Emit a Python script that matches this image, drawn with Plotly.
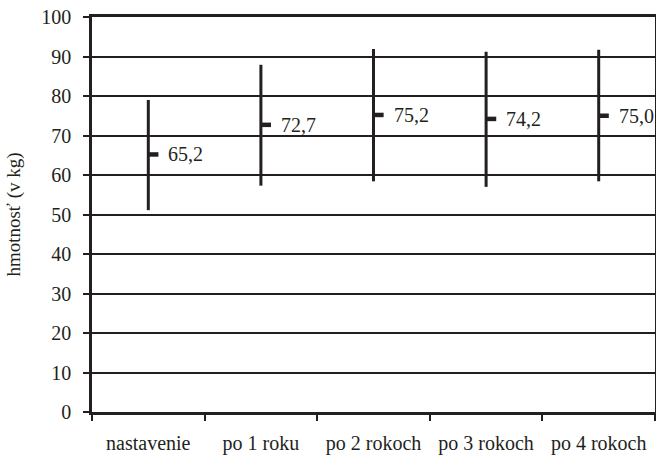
import plotly.graph_objects as go

categories = ["nastavenie", "po 1 roku", "po 2 rokoch", "po 3 rokoch", "po 4 rokoch"]
means = [65.2, 72.7, 75.2, 74.2, 75.0]
highs = [79.0, 87.9, 91.9, 91.2, 91.7]
lows = [51.1, 57.3, 58.4, 57.0, 58.4]
y_ticks = [0, 10, 20, 30, 40, 50, 60, 70, 80, 90, 100]

INK = "#231f20"
FAMILY = "Liberation Serif"
FONT = dict(family=FAMILY, size=20, color=INK)

pos = list(range(len(categories)))
bounds = [p - 0.5 for p in pos] + [pos[-1] + 0.5]

fig = go.Figure()
fig.add_trace(go.Scatter(
    x=pos, y=means, mode="markers",
    marker=dict(size=1, color="rgba(0,0,0,0)"),
    error_y=dict(type="data", symmetric=False,
                 array=[h - m for h, m in zip(highs, means)],
                 arrayminus=[m - l for m, l in zip(means, lows)],
                 width=0, thickness=3, color=INK),
    error_x=dict(type="data", symmetric=False,
                 array=[0.09] * len(means), arrayminus=[0] * len(means),
                 width=0, thickness=4.5, color=INK),
    showlegend=False, hoverinfo="skip",
))

for p, m in zip(pos, means):
    fig.add_annotation(x=p, y=m, text=f"{m:.1f}".replace(".", ","),
                       showarrow=False, xanchor="left", yanchor="middle",
                       xshift=18, font=FONT)

fig.update_layout(
    width=656, height=455,
    margin=dict(l=92, r=1, t=17, b=43),
    paper_bgcolor="white", plot_bgcolor="white",
    font=FONT,
    showlegend=False,
)
fig.update_xaxes(
    range=[-0.5, 4.5], tickvals=pos, ticktext=categories,
    ticks="", ticklabelstandoff=11,
    minor=dict(tickvals=bounds, ticks="outside", ticklen=6, tickwidth=2,
               tickcolor=INK, showgrid=False),
    showline=True, linewidth=2.5, linecolor=INK, mirror=True,
    showgrid=False, zeroline=False, tickfont=FONT, automargin=False,
)
fig.update_yaxes(
    range=[0, 100], tickvals=y_ticks,
    ticks="outside", ticklen=6, tickwidth=2, tickcolor=INK,
    ticklabelstandoff=8,
    showline=True, linewidth=2.5, linecolor=INK, mirror=True,
    showgrid=True, gridcolor=INK, gridwidth=1.6, zeroline=False,
    tickfont=FONT, automargin=False,
    title=dict(text="hmotnosť (v kg)", font=dict(family=FAMILY, size=19, color=INK), standoff=16),
)

fig.write_html("out.html", config={"displayModeBar": False},
               post_script="document.body.style.margin='0';")
